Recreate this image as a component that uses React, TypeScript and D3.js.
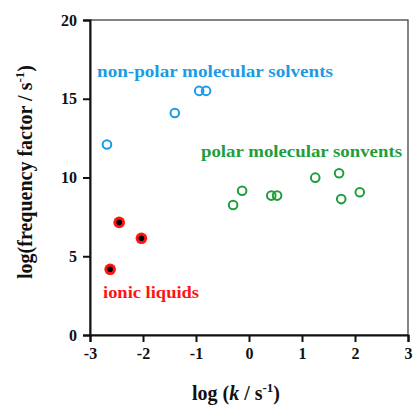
import React, { useEffect, useRef } from "react";
import * as d3 from "d3";

// data: [log k, log frequency factor]
const nonPolarX = [-2.68, -1.4, -0.94, -0.81];
const nonPolarY = [12.1, 14.1, 15.5, 15.5];
const polarX = [-0.3, -0.13, 0.42, 0.53, 1.25, 1.7, 1.74, 2.09];
const polarY = [8.25, 9.16, 8.85, 8.85, 9.99, 10.27, 8.63, 9.06];
const ionicX = [-2.45, -2.03, -2.62];
const ionicY = [7.15, 6.14, 4.17];
const xTicks = [-3, -2, -1, 0, 1, 2, 3];
const yTicks = [0, 5, 10, 15, 20];

const BLUE = "#1a9be6";
const GREEN = "#1f9e3c";
const RED = "#ff1414";
const FONT = "Liberation Serif, DejaVu Serif, serif";

export default function App() {
  const ref = useRef<SVGSVGElement>(null);

  useEffect(() => {
    const svg = d3.select(ref.current);
    svg.selectAll("*").remove();

    const left = 90, right = 408, top = 20, bottom = 335;
    const x = d3.scaleLinear().domain([-3, 3]).range([left, right]);
    const y = d3.scaleLinear().domain([0, 20]).range([bottom, top]);

    // thin frame top / right
    svg.append("rect")
      .attr("x", left).attr("y", top)
      .attr("width", right - left).attr("height", bottom - top)
      .attr("fill", "none").attr("stroke", "#333").attr("stroke-width", 1.2);

    const xAxis = svg.append("g")
      .attr("transform", `translate(0,${bottom})`)
      .call(d3.axisBottom(x).tickValues(xTicks).tickSize(7).tickPadding(6).tickFormat((d) => String(d)));
    const yAxis = svg.append("g")
      .attr("transform", `translate(${left},0)`)
      .call(d3.axisLeft(y).tickValues(yTicks).tickSize(7).tickPadding(6).tickFormat((d) => String(d)));

    [xAxis, yAxis].forEach((g) => {
      g.attr("font-family", FONT);
      g.select(".domain").attr("stroke", "#111").attr("stroke-width", 2);
      g.selectAll(".tick line").attr("stroke", "#111").attr("stroke-width", 2);
      g.selectAll(".tick text")
        .attr("fill", "#111")
        .attr("font-weight", "bold")
        .attr("font-size", 16);
    });

    // axis titles
    const xt = svg.append("text")
      .attr("x", 236).attr("y", 400)
      .attr("text-anchor", "middle")
      .attr("font-family", FONT).attr("font-weight", "bold").attr("font-size", 20)
      .attr("fill", "#111");
    xt.append("tspan").text("log (");
    xt.append("tspan").attr("font-style", "italic").text("k");
    xt.append("tspan").text(" / s");
    xt.append("tspan").attr("dy", -8).attr("font-size", 13).text("-1");
    xt.append("tspan").attr("dy", 8).text(")");

    const yt = svg.append("text")
      .attr("transform", "translate(32,172) rotate(-90)")
      .attr("text-anchor", "middle")
      .attr("font-family", FONT).attr("font-weight", "bold").attr("font-size", 20)
      .attr("fill", "#111");
    yt.append("tspan").text("log(frequency factor / s");
    yt.append("tspan").attr("dy", -8).attr("font-size", 13).text("-1");
    yt.append("tspan").attr("dy", 8).text(")");

    // non-polar
    svg.append("g").selectAll("circle")
      .data(d3.zip(nonPolarX, nonPolarY))
      .join("circle")
      .attr("cx", (d) => x(d[0])).attr("cy", (d) => y(d[1]))
      .attr("r", 4.3).attr("fill", "none").attr("stroke", BLUE).attr("stroke-width", 2);

    // polar
    svg.append("g").selectAll("circle")
      .data(d3.zip(polarX, polarY))
      .join("circle")
      .attr("cx", (d) => x(d[0])).attr("cy", (d) => y(d[1]))
      .attr("r", 4.3).attr("fill", "none").attr("stroke", GREEN).attr("stroke-width", 2);

    // ionic liquids: red disc with black centre
    const ion = svg.append("g").selectAll("g")
      .data(d3.zip(ionicX, ionicY))
      .join("g")
      .attr("transform", (d) => `translate(${x(d[0])},${y(d[1])})`);
    ion.append("circle").attr("r", 5.8).attr("fill", RED);
    ion.append("circle").attr("r", 2.8).attr("fill", "#000");

    const label = (t: string, lx: number, ly: number, c: string, w: number) =>
      svg.append("text").attr("x", lx).attr("y", ly).text(t)
        .attr("fill", c)
        .attr("textLength", w).attr("lengthAdjust", "spacingAndGlyphs")
        .attr("font-family", FONT).attr("font-weight", "bold").attr("font-size", 16);

    label("non-polar molecular solvents", 97, 77, BLUE, 236);
    label("polar molecular sonvents", 201, 157, GREEN, 201);
    label("ionic liquids", 103, 298, RED, 96);
  }, []);

  return (
    <svg ref={ref} width={413} height={405}
      style={{ position: "absolute", left: 0, top: 0, background: "#fff" }} />
  );
}
